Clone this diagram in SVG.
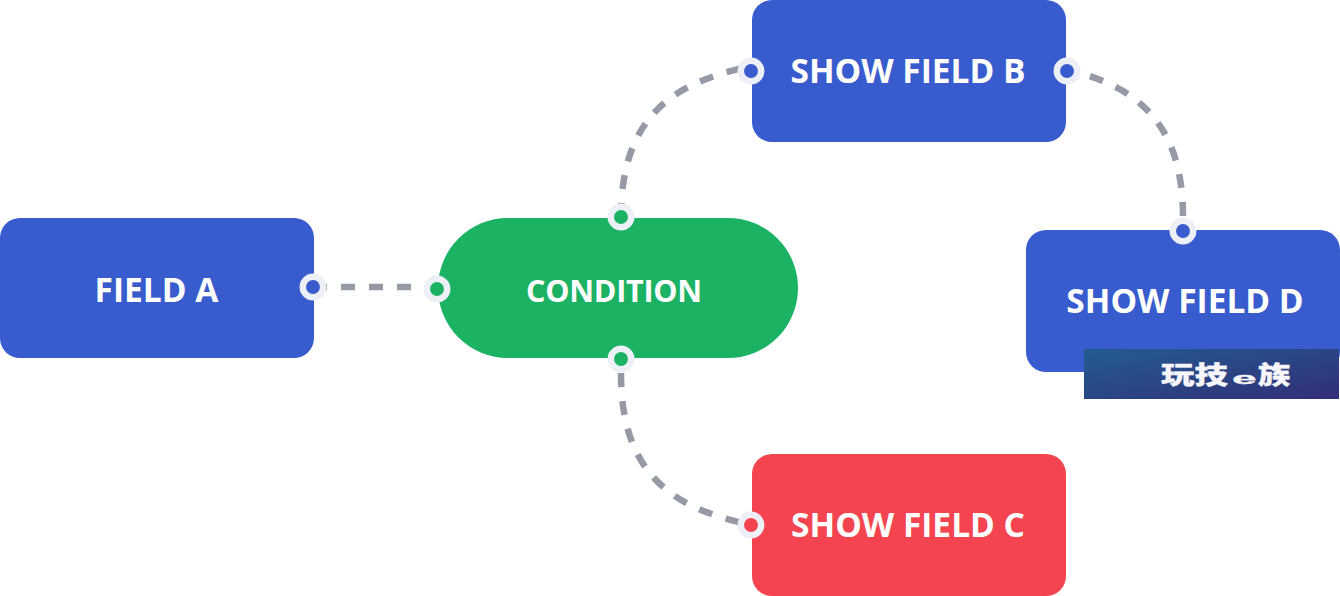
<svg xmlns="http://www.w3.org/2000/svg" width="1340" height="596" viewBox="0 0 1340 596">
<style>
.lbl{font-family:"Open Sans","Noto Sans",sans-serif;font-weight:700;font-size:33.500px;fill:#fff;text-anchor:middle}
.conn{fill:none;stroke:#9699a6;stroke-width:6.500;stroke-dasharray:14 14}
.port{stroke:#eef0f8;stroke-width:6.500}
.blue{fill:#385bcd}.green{fill:#1bb263}.red{fill:#f4444f}
.wm{font-family:"Noto Sans CJK SC",sans-serif;font-weight:900;font-size:25px;fill:#f6f6fa;stroke:#f6f6fa;stroke-width:0.3}
</style>
<defs>
<linearGradient id="wmg" x1="0" y1="0" x2="1" y2="1">
<stop offset="0" stop-color="#235c90"/><stop offset="1" stop-color="#322e78"/>
</linearGradient>
</defs>
<rect width="1340" height="596" fill="#fff"/>
<g id="field-a"><rect class="blue" x="0" y="218" width="314" height="140" rx="20"/><text class="lbl" x="156.500" y="302">FIELD A</text></g>
<g id="condition"><rect class="green" x="438" y="218" width="360" height="140" rx="70"/><text class="lbl" x="614" y="302" style="font-size:30.500px;letter-spacing:-0.250px">CONDITION</text></g>
<g id="show-b"><rect class="blue" x="752" y="0" width="314" height="142" rx="20"/><text class="lbl" x="908" y="83">SHOW FIELD B</text></g>
<g id="show-c"><rect class="red" x="752" y="454" width="314" height="142" rx="20"/><text class="lbl" x="908" y="537">SHOW FIELD C</text></g>
<g id="show-d"><rect class="blue" x="1026" y="230" width="314" height="142" rx="20"/><text class="lbl" x="1185" y="313">SHOW FIELD D</text></g>
<g id="connectors">
<path class="conn" d="M313 287H437"/>
<path class="conn" d="M621 217C621 111 680 81 752 66"/>
<path class="conn" d="M1183 231V217C1183 111 1124 81 1052 66" stroke-dashoffset="13"/>
<path class="conn" d="M621 359V374C621 480 680 510 752 525" stroke-dashoffset="14"/>
</g>
<g id="ports">
<circle class="port blue" cx="313" cy="287" r="10.200"/>
<circle class="port green" cx="437" cy="289" r="10.200"/>
<circle class="port green" cx="621" cy="217" r="10.200"/>
<circle class="port green" cx="621" cy="359" r="10.200"/>
<circle class="port blue" cx="751" cy="71" r="10.200"/>
<circle class="port blue" cx="1067" cy="71" r="10.200"/>
<circle class="port blue" cx="1183" cy="231" r="10.200"/>
<circle class="port red" cx="751" cy="525" r="10.200"/>
</g>
<g id="watermark">
<rect x="1084" y="349" width="255" height="50" fill="url(#wmg)"/>
<text class="wm" transform="translate(1161 384) scale(1.34 1)">玩技</text>
<text class="wm" transform="translate(1232 384) scale(2.6 1)" style="font-size:17px;font-weight:700;font-family:'Liberation Sans',sans-serif">e</text>
<text class="wm" transform="translate(1258 384) scale(1.3 1)">族</text>
</g>
</svg>
